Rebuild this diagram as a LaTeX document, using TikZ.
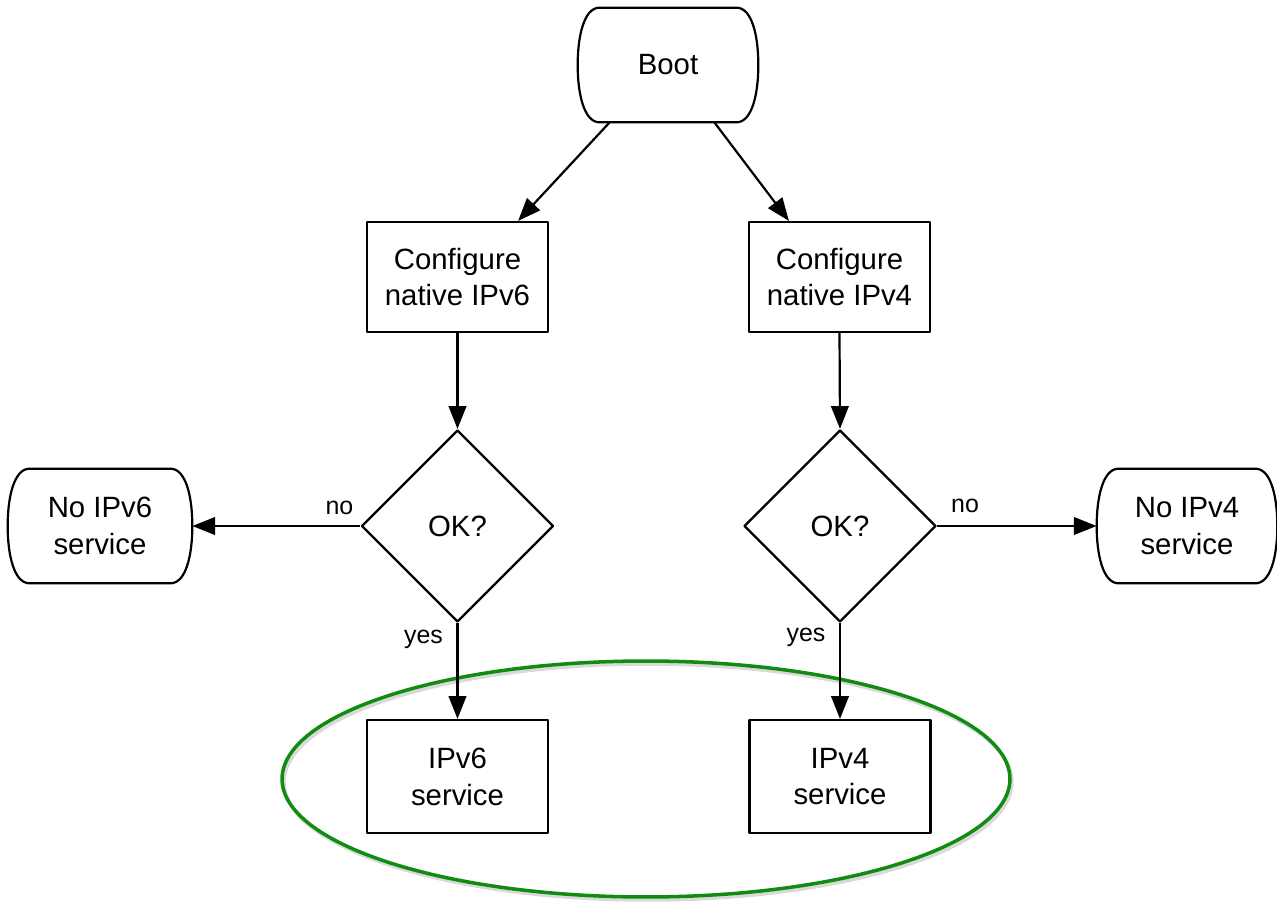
\documentclass[tikz,border=0pt]{standalone}
\usepackage{fontspec}
\setmainfont{Liberation Sans}
\usetikzlibrary{arrows.meta,shapes.geometric,calc}

\definecolor{ringgreen}{RGB}{16,140,16}

% Terminal outline: straight top and bottom, outward-bulging sides
\newcommand\termoutline[1]{%
  \draw[flowline]
    ($(#1.north west)+(22,0)$) -- ($(#1.north east)+(-22,0)$)
    .. controls +(16,0) and +(0,-28) .. (#1.east)
    .. controls +(0,28) and +(16,0) .. ($(#1.south east)+(-22,0)$)
    -- ($(#1.south west)+(22,0)$)
    .. controls +(-16,0) and +(0,28) .. (#1.west)
    .. controls +(0,-28) and +(-16,0) .. ($(#1.north west)+(22,0)$)
    -- cycle;}

\tikzset{
  flowline/.style={line width=1.25pt, black, line join=round},
  txt/.style={font=\fontsize{16.7}{21}\selectfont, align=center, text=black},
  stepbox/.style={txt, draw, flowline, rectangle, minimum width=3.62cm,
    minimum height=2.2cm, inner sep=0pt},
  terminal/.style={txt, rectangle, minimum width=3.6cm, minimum height=2.28cm,
    inner sep=0pt},
  decision/.style={txt, draw, flowline, diamond, minimum width=3.84cm,
    minimum height=3.84cm, inner sep=0pt},
  arr/.style={flowline, -{Triangle[length=13pt, width=10pt]}},
  lbl/.style={font=\fontsize{14.2}{17}\selectfont, text=black, inner sep=0pt},
}

\begin{document}
\begin{tikzpicture}[x=0.02cm, y=-0.02cm]
  \useasboundingbox (0,0) rectangle (1277,908);

  % Nodes
  \node[terminal] (boot) at (668,65) {Boot};
  \termoutline{boot}

  \node[stepbox] (cfg6) at (457.5,277) {Configure\\native IPv6};
  \node[stepbox] (cfg4) at (839.5,277) {Configure\\native IPv4};

  \node[decision] (dia6) at (457.5,526) {OK?};
  \node[decision] (dia4) at (840,526) {OK?};

  \node[terminal, minimum width=3.68cm] (no6) at (100,526) {No IPv6\\service};
  \termoutline{no6}
  \node[terminal, minimum width=3.6cm] (no4) at (1187,526) {No IPv4\\service};
  \termoutline{no4}

  \node[stepbox, minimum height=2.26cm] (svc6) at (457.5,776.5) {IPv6\\service};
  \node[stepbox, minimum height=2.26cm] (svc4) at (840,776.5) {IPv4\\service};

  % Grouping ring around the two service boxes
  \draw[black!25, opacity=0.6, line width=2pt] (648,782) ellipse [x radius=7.28cm, y radius=2.36cm];
  \draw[ringgreen, line width=2pt] (646,779) ellipse [x radius=7.28cm, y radius=2.36cm];

  % Connectors
  \draw[arr] ($(boot.south west)+(32,0)$) -- ($(cfg6.north east)+(-31,0)$);
  \draw[arr] ($(boot.south east)+(-44,0)$) -- ($(cfg4.north west)+(41,0)$);

  \draw[arr] (cfg6.south) -- (dia6.north);
  \draw[arr] (cfg4.south) -- (dia4.north);

  \draw[arr] (dia6.west) -- (no6.east);
  \draw[arr] (dia4.east) -- (no4.west);

  \draw[arr] (dia6.south) -- (svc6.north);
  \draw[arr] (dia4.south) -- (svc4.north);

  % Branch labels
  \node[lbl] (no6lbl) at ($(dia6.west)+(-21,-18)$) {no};
  \node[lbl] (no4lbl) at ($(dia4.east)+(28,-20)$) {no};
  \node[lbl] (yes6lbl) at ($(dia6.south)+(-34,16)$) {yes};
  \node[lbl] (yes4lbl) at ($(dia4.south)+(-34,14)$) {yes};
\end{tikzpicture}
\end{document}
